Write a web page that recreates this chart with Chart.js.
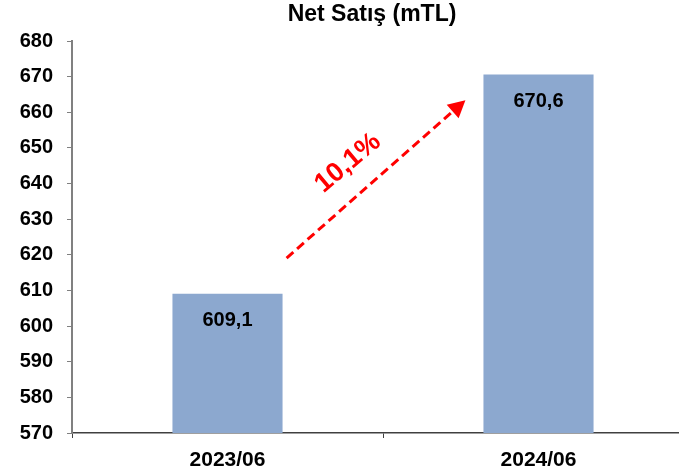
<!DOCTYPE html>
<html>
<head>
<meta charset="utf-8">
<script src="https://cdn.jsdelivr.net/npm/chart.js@4.4.0/dist/chart.umd.min.js"></script>
<style>
html,body{margin:0;padding:0;background:#fff;overflow:hidden;}
#wrap{position:relative;width:694px;height:473px;}
</style>
</head>
<body>
<div id="wrap"><canvas id="c"></canvas></div>
<script>
const categories = ["2023/06", "2024/06"];
const netSatis = [609.1, 670.6];
const labels = ["609,1", "670,6"];
const titleText = "Net Satış (mTL)";
const growthLabel = "10,1%";
const arrowFrom = [0.19, 619.1];
const arrowTo = [0.765, 663.4];
const yMin = 570, yMax = 680, yStep = 10;

const FONT = "'Liberation Sans', Arial, sans-serif";

const overlay = {
  id: 'overlay',
  afterDatasetsDraw(chart) {
    const ctx = chart.ctx;
    const xs = chart.scales.x, ys = chart.scales.y;
    const meta = chart.getDatasetMeta(0);
    ctx.save();
    // bar value labels
    ctx.fillStyle = '#000';
    ctx.font = "bold 20px " + FONT;
    ctx.textAlign = 'center';
    ctx.textBaseline = 'middle';
    meta.data.forEach((bar, i) => {
      ctx.fillText(labels[i], bar.x, bar.y + 27);
    });
    // arrow
    const x0 = xs.getPixelForValue(arrowFrom[0]), y0 = ys.getPixelForValue(arrowFrom[1]);
    const x1 = xs.getPixelForValue(arrowTo[0]), y1 = ys.getPixelForValue(arrowTo[1]);
    const ang = Math.atan2(y1 - y0, x1 - x0);
    const headLen = 17, headW = 9;
    const bx = x1 - headLen * Math.cos(ang), by = y1 - headLen * Math.sin(ang);
    ctx.strokeStyle = '#FF0000';
    ctx.fillStyle = '#FF0000';
    ctx.lineWidth = 3;
    ctx.setLineDash([9, 5]);
    ctx.beginPath();
    ctx.moveTo(x0, y0);
    ctx.lineTo(bx, by);
    ctx.stroke();
    ctx.setLineDash([]);
    ctx.beginPath();
    ctx.moveTo(x1, y1);
    ctx.lineTo(bx + headW * Math.sin(ang), by - headW * Math.cos(ang));
    ctx.lineTo(bx - headW * Math.sin(ang), by + headW * Math.cos(ang));
    ctx.closePath();
    ctx.fill();
    // growth label
    const mx = (x0 + x1) / 2 - 28, my = (y0 + y1) / 2 - 16;
    ctx.translate(mx, my);
    ctx.rotate(-0.70);
    ctx.font = "bold 27px " + FONT;
    ctx.textAlign = 'center';
    ctx.textBaseline = 'middle';
    ctx.fillText(growthLabel, 0, 0);
    ctx.restore();
    // title
    ctx.save();
    ctx.fillStyle = '#000';
    ctx.font = "bold 23px " + FONT;
    ctx.textAlign = 'center';
    ctx.textBaseline = 'middle';
    ctx.fillText(titleText, 372, 15);
    ctx.restore();
  }
};

new Chart(document.getElementById('c'), {
  type: 'bar',
  data: {
    labels: categories,
    datasets: [{
      data: netSatis,
      backgroundColor: '#8CA8CF',
      borderWidth: 0,
      categoryPercentage: 0.354,
      barPercentage: 1.0
    }]
  },
  options: {
    responsive: true,
    maintainAspectRatio: false,
    animation: false,
    layout: { padding: { top: 41, right: 0, left: 0, bottom: 0 } },
    plugins: { legend: { display: false }, tooltip: { enabled: false }, title: { display: false } },
    scales: {
      x: {
        offset: true,
        grid: { offset: true, drawOnChartArea: false, tickLength: 5, color: '#404040', lineWidth: 1 },
        border: { color: '#404040', width: 1.5 },
        ticks: { color: '#000', font: { family: FONT, size: 21, weight: 'bold' }, padding: 10 },
        afterFit(s) { s.height = 40; }
      },
      y: {
        min: yMin, max: yMax,
        grid: { drawOnChartArea: false, tickLength: 5, color: '#808080' },
        border: { color: '#808080', width: 2 },
        ticks: { stepSize: yStep, color: '#000', font: { family: FONT, size: 20, weight: 'bold' }, padding: 14 },
        afterFit(s) { s.width = 72; }
      }
    }
  },
  plugins: [overlay]
});
</script>
</body>
</html>
